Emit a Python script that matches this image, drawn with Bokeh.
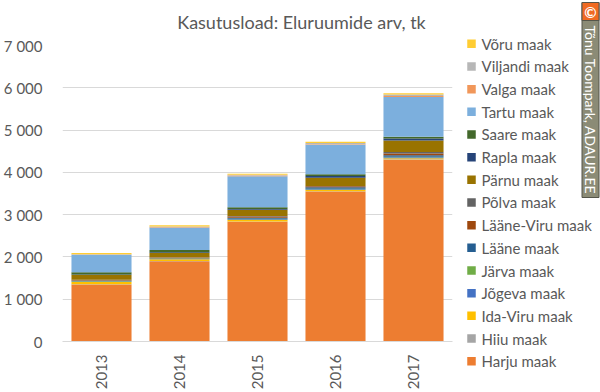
import math
from bokeh.plotting import figure
from bokeh.models import (ColumnDataSource, FactorRange, Range1d, FixedTicker)
from bokeh.layouts import row, column
from bokeh.core.properties import value
from bokeh.embed import file_html
from bokeh.resources import INLINE

years = ["2013", "2014", "2015", "2016", "2017"]
counties = ["Harju maak", "Hiiu maak", "Ida-Viru maak", "Jõgeva maak", "Järva maak",
            "Lääne maak", "Lääne-Viru maak", "Põlva maak", "Pärnu maak", "Rapla maak",
            "Saare maak", "Tartu maak", "Valga maak", "Viljandi maak", "Võru maak"]
harju = [1350, 1900, 2830, 3550, 4300]
hiiu = [5, 5, 5, 5, 10]
ida_viru = [50, 40, 40, 30, 25]
jogeva = [10, 5, 15, 15, 20]
jarva = [10, 10, 15, 15, 15]
laane = [10, 10, 20, 30, 35]
laane_viru = [15, 15, 30, 25, 40]
polva = [10, 10, 10, 10, 35]
parnu = [110, 100, 150, 190, 275]
rapla = [15, 15, 20, 45, 45]
saare = [50, 55, 40, 40, 45]
tartu = [415, 530, 735, 695, 940]
valga = [5, 10, 15, 15, 20]
viljandi = [10, 15, 20, 30, 35]
voru = [25, 30, 25, 30, 30]
series = [harju, hiiu, ida_viru, jogeva, jarva, laane, laane_viru, polva, parnu,
          rapla, saare, tartu, valga, viljandi, voru]
colors = ["#ED7D31", "#A5A5A5", "#FFC000", "#4472C4", "#70AD47", "#255E91", "#9E480E",
          "#636363", "#997300", "#264478", "#43682B", "#7CAFDD", "#F1975A", "#B7B7B7",
          "#FFCD33"]
y_ticks = [0, 1000, 2000, 3000, 4000, 5000, 6000, 7000]
y_tick_labels = ["0", "1 000", "2 000", "3 000", "4 000", "5 000", "6 000", "7 000"]
title_text = "Kasutusload: Eluruumide arv, tk"
credit_text = "Tõnu Toompark, ADAUR.EE"

FONT = "Lato"
TXT = "#595959"


def blank(width, height, x0, x1, y0, y1):
    f = figure(width=width, height=height, x_range=Range1d(x0, x1),
               y_range=Range1d(y1, y0), output_backend="svg", toolbar_location=None,
               min_border=0, frame_align=False)
    f.axis.visible = False
    f.grid.visible = False
    f.outline_line_color = None
    return f


data = {"year": years}
keys = []
for i, s in enumerate(series):
    k = "c%d" % i
    keys.append(k)
    data[k] = s
source = ColumnDataSource(data)

# ---- title strip (page pixel coordinates) ----
tf = blank(457, 36, 0, 457, 0, 36)
tf.text(x=[301], y=[21], text=[title_text], text_font=value(FONT),
        text_font_size="18px", text_color=TXT, text_align="center",
        text_baseline="middle")

# ---- main chart ----
p = figure(width=457, height=356, x_range=FactorRange(factors=years),
           y_range=Range1d(0, 7000), output_backend="svg", toolbar_location=None,
           min_border_left=57, min_border_right=5, min_border_top=9,
           min_border_bottom=50, frame_align=False)
p.outline_line_color = None
renderers = p.vbar_stack(keys, x="year", width=0.77, color=colors, source=source,
                         line_color=None)

p.yaxis.ticker = FixedTicker(ticks=y_ticks)
p.yaxis.major_label_overrides = {t: l for t, l in zip(y_ticks, y_tick_labels)}
p.yaxis.axis_line_color = None
p.yaxis.major_tick_line_color = None
p.yaxis.minor_tick_line_color = None
p.yaxis.major_label_text_font = FONT
p.yaxis.major_label_text_font_size = "15px"
p.yaxis.major_label_text_color = TXT
p.yaxis.major_label_standoff = 14

p.xaxis.axis_line_color = "#D9D9D9"
p.xaxis.major_tick_line_color = None
p.xaxis.minor_tick_line_color = None
p.xaxis.major_label_orientation = math.pi / 2
p.xaxis.major_label_text_font = FONT
p.xaxis.major_label_text_font_size = "15px"
p.xaxis.major_label_text_color = TXT
p.xaxis.major_label_standoff = 7

p.xgrid.grid_line_color = None
p.ygrid.grid_line_color = "#D9D9D9"
p.ygrid.ticker = FixedTicker(ticks=y_ticks)

# ---- legend + credit strip (page pixel coordinates) ----
lg = blank(143, 392, 457, 600, 0, 392)
order = list(reversed(range(len(counties))))
item_y = [43.3 + k * 22.67 for k in range(len(order))]
lg.scatter(x=[471] * len(order), y=item_y, marker="square", size=8.5,
           fill_color=[colors[i] for i in order], line_color=None)
lg.text(x=[481] * len(order), y=item_y, text=[counties[i] for i in order],
        text_font=value(FONT), text_font_size="15px", text_color=TXT,
        text_align="left", text_baseline="middle")

lg.quad(left=[581.5], right=[598.5], top=[2], bottom=[197], fill_color="#8B8B76",
        line_color="#55554A", line_width=1)
lg.quad(left=[581.5], right=[598.5], top=[2], bottom=[20], fill_color="#F06A22",
        line_color="#55554A", line_width=1)
lg.text(x=[590], y=[11.5], text=["©"], text_color="white", text_font=value(FONT),
        text_font_size="15px", text_align="center", text_baseline="middle",
        text_font_style="bold")
lg.text(x=[590], y=[25], text=[credit_text], angle=-math.pi / 2, text_color="white",
        text_font=value(FONT), text_font_size="14px", text_align="left",
        text_baseline="middle")

layout = row(column(tf, p), lg)
open("out.html", "w").write(file_html(layout, INLINE))
